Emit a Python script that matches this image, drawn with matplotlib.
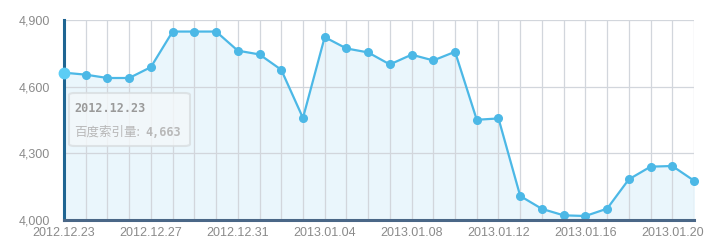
import numpy as np
import matplotlib
matplotlib.use('Agg')
import matplotlib.pyplot as plt
from matplotlib.patches import FancyBboxPatch

plt.rcParams['font.family'] = ['Liberation Sans', 'Noto Sans CJK SC', 'DejaVu Sans']

# Data: daily index counts, 2012.12.23 - 2013.01.21
dates = ['2012.12.23', '2012.12.24', '2012.12.25', '2012.12.26', '2012.12.27',
         '2012.12.28', '2012.12.29', '2012.12.30', '2012.12.31', '2013.01.01',
         '2013.01.02', '2013.01.03', '2013.01.04', '2013.01.05', '2013.01.06',
         '2013.01.07', '2013.01.08', '2013.01.09', '2013.01.10', '2013.01.11',
         '2013.01.12', '2013.01.13', '2013.01.14', '2013.01.15', '2013.01.16',
         '2013.01.17', '2013.01.18', '2013.01.19', '2013.01.20', '2013.01.21']
values = [4663, 4654, 4639, 4639, 4688, 4848, 4848, 4848, 4762, 4745,
          4676, 4459, 4823, 4772, 4754, 4700, 4744, 4718, 4757, 4451,
          4457, 4108, 4050, 4021, 4018, 4051, 4183, 4240, 4243, 4177]
y_ticks = [4000, 4300, 4600, 4900]
y_ticklabels = ['4,000', '4,300', '4,600', '4,900']

line_col = '#4cb8e6'
x = np.arange(len(dates))

fig = plt.figure(figsize=(7.23, 2.44), dpi=100)
ax = fig.add_axes([64 / 723, 24 / 244, 630 / 723, 200 / 244])

ax.fill_between(x, values, 4000, color='#eaf6fc', zorder=1)
ax.plot(x, values, color=line_col, lw=1.6, zorder=3, clip_on=False)
ax.plot(x[1:], values[1:], 'o', color=line_col, ms=5.5, mec=line_col, zorder=4, clip_on=False)
# highlighted first point
ax.plot(x[0], values[0], 'o', color='#5ccdf5', ms=7.5, mec='#5ccdf5', zorder=7, clip_on=False)

ax.set_xlim(0, len(dates) - 1)
ax.set_ylim(4000, 4900)

# grid
for xi in x:
    ax.axvline(xi, color='#d2d6dc', lw=0.9, zorder=2)
for yt in y_ticks:
    ax.axhline(yt, color='#d2d6dc', lw=0.9, zorder=2)

ax.set_yticks(y_ticks)
ax.set_yticklabels(y_ticklabels)
ax.set_xticks(x[::4])
ax.set_xticklabels(dates[::4])
ax.tick_params(length=0, colors='#8a8a8a', labelsize=9)
ax.tick_params(axis='y', pad=10)
ax.tick_params(axis='x', pad=5)

for s in ['top', 'right']:
    ax.spines[s].set_visible(False)
ax.spines['left'].set_color('#1f6592')
ax.spines['left'].set_linewidth(2.2)
ax.spines['bottom'].set_color('#4a6787')
ax.spines['bottom'].set_linewidth(2.2)
ax.spines['left'].set_zorder(6)
ax.spines['bottom'].set_zorder(6)

# tooltip box
box = FancyBboxPatch((69 / 723, (244 - 146) / 244), 121 / 723, 53 / 244,
                     boxstyle='round,pad=0,rounding_size=0.008',
                     transform=fig.transFigure, facecolor='#f4f8fa', alpha=0.8,
                     edgecolor='#d8dde0', lw=1.5, zorder=10)
fig.patches.append(box)
fig.text(74 / 723, 1 - 108 / 244, dates[0], color='#9a9a9a', fontsize=8.5,
         fontweight='bold', family=['DejaVu Sans Mono', 'DejaVu Sans'],
         va='center', ha='left', zorder=11)
fig.text(74 / 723, 1 - 132 / 244, '百度索引量:', color='#b8b8b8', fontsize=9,
         family=['Noto Sans CJK SC', 'DejaVu Sans'], va='center', ha='left', zorder=11)
fig.text(145 / 723, 1 - 132 / 244, '{:,}'.format(values[0]), color='#b8b8b8',
         fontsize=8.5, fontweight='bold', family=['DejaVu Sans Mono', 'DejaVu Sans'],
         va='center', ha='left', zorder=11)

fig.savefig('out.png', dpi=100)
